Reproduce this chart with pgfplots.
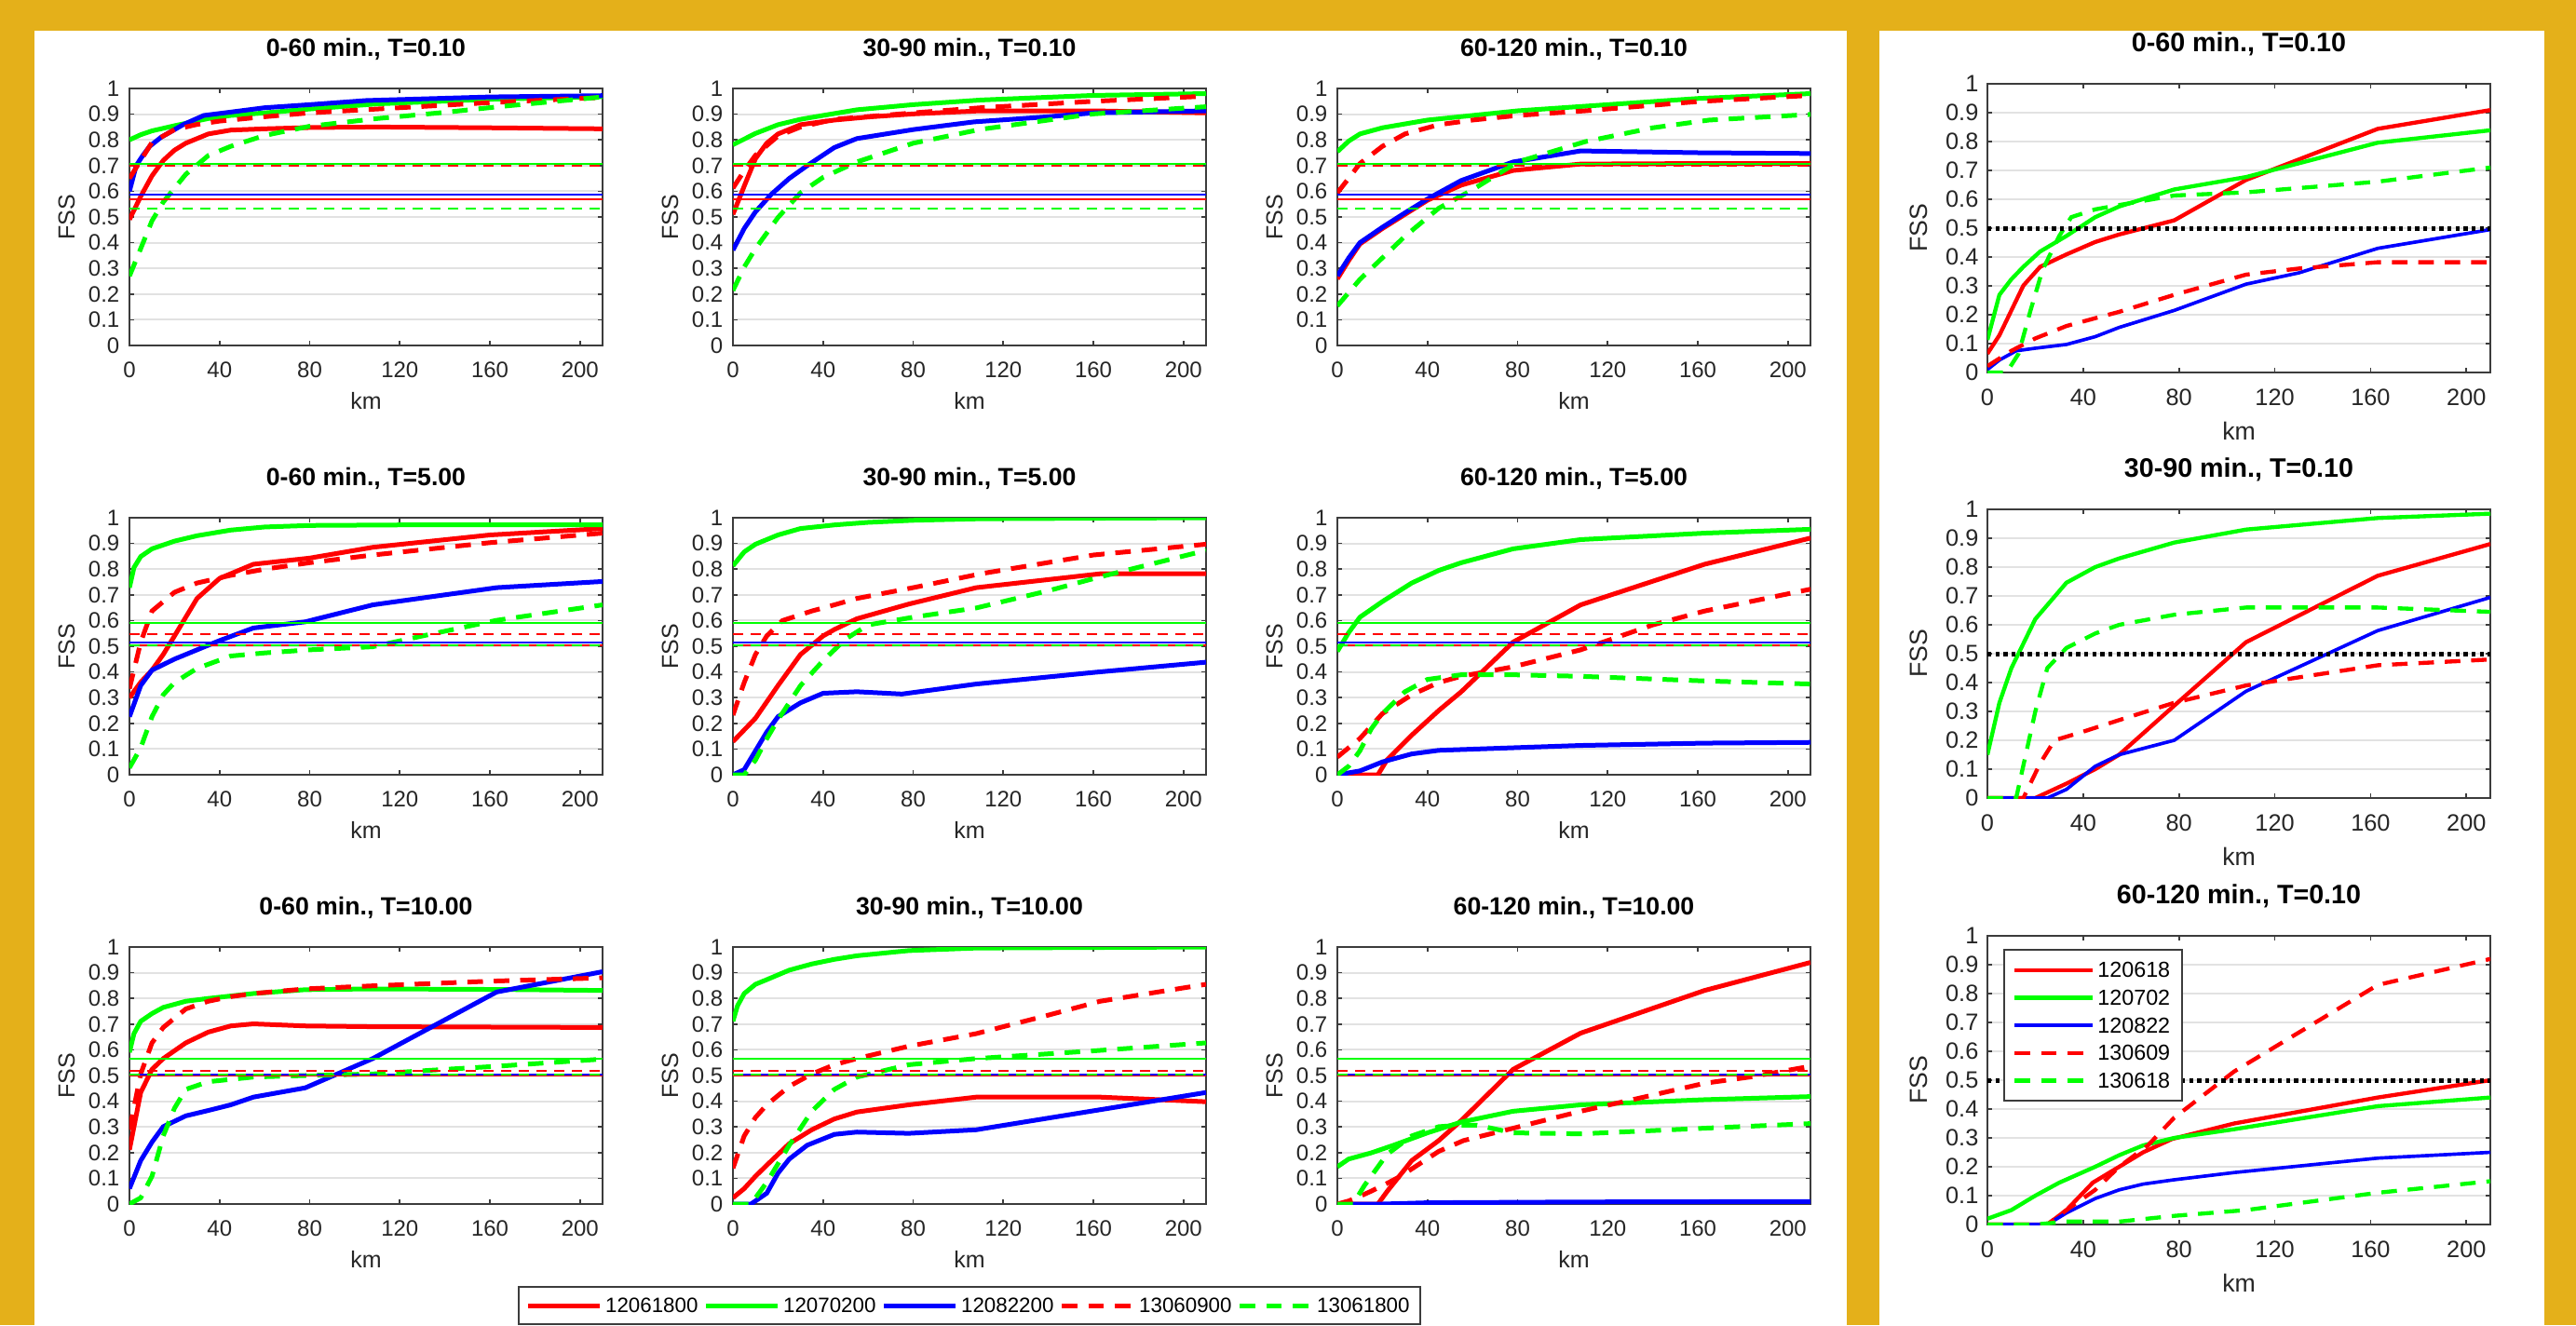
\documentclass[border=0pt]{standalone}
\usepackage{fontspec}
\setmainfont{Liberation Sans}
\usepackage{pgfplots}
\pgfplotsset{compat=1.18}
\definecolor{gold}{RGB}{228,176,26}
\definecolor{axgray}{RGB}{60,60,60}
\definecolor{gridgray}{RGB}{226,226,226}
\pgfplotsset{
  base/.style={scale only axis, xmin=0, xmax=210, ymin=0, ymax=1,
    xtick={0,40,80,120,160,200},
    ytick={0,0.1,0.2,0.3,0.4,0.5,0.6,0.7,0.8,0.9,1},
    tick align=inside, xtick pos=both, ytick pos=both,
    major tick length=1.5pt,
    tick style={axgray, line width=0.5pt},
    axis line style={axgray, line width=0.6pt},
    ymajorgrids, major grid style={gridgray, line width=0.6pt},
    /pgf/number format/assume math mode=true,
    ticklabel style={text=black!85},
    xlabel={km}, ylabel={FSS},
    label style={text=black!85},
  },
  lax/.style n args={3}{base, at={(#1,#2)}, anchor=south west, width=152.4pt, height=82.8pt,
    title={#3},
    title style={at={(0.5,1)}, anchor=center, yshift=6.6pt, font=\bfseries\fontsize{8}{9}\selectfont},
    xticklabel style={anchor=center, yshift=-7.8pt, font=\fontsize{7.2}{8}\selectfont},
    yticklabel style={anchor=east, inner sep=0pt, xshift=-3pt, font=\fontsize{7.2}{8}\selectfont},
    xlabel style={at={(axis description cs:0.5,0)}, anchor=center, yshift=-17.7pt, font=\fontsize{7.5}{8}\selectfont},
    ylabel style={at={(axis description cs:-0.133,0.5)}, anchor=center, font=\fontsize{7.5}{8}\selectfont},
  },
  rax/.style n args={2}{base, at={(640.2pt,#1)}, anchor=south west, width=162pt, height=93pt,
    title={#2},
    title style={at={(0.5,1)}, anchor=center, yshift=6.9pt, font=\bfseries\fontsize{8.6}{9.5}\selectfont},
    xticklabel style={anchor=center, yshift=-8.1pt, font=\fontsize{7.6}{8}\selectfont},
    yticklabel style={anchor=east, inner sep=0pt, xshift=-2.7pt, font=\fontsize{7.6}{8}\selectfont},
    xlabel style={at={(axis description cs:0.5,0)}, anchor=center, yshift=-18.9pt, font=\fontsize{8}{9}\selectfont},
    ylabel style={at={(axis description cs:-0.137,0.5)}, anchor=center, font=\fontsize{8}{9}\selectfont},
  },
  R/.style={color=red, line width=1.5pt},
  G/.style={color=green, line width=1.5pt},
  B/.style={color=blue, line width=1.5pt},
  RD/.style={color=red, line width=1.5pt, dash pattern=on 5pt off 3.5pt},
  GD/.style={color=green, line width=1.5pt, dash pattern=on 5pt off 3.5pt},
  Rt/.style={color=red, line width=0.6pt},
  Gt/.style={color=green, line width=0.6pt},
  Bt/.style={color=blue, line width=0.6pt},
  RDt/.style={color=red, line width=0.6pt, dash pattern=on 3.3pt off 2.4pt},
  GDt/.style={color=green, line width=0.6pt, dash pattern=on 3.3pt off 2.4pt},
  r/.style={color=red, line width=1.3pt},
  g/.style={color=green, line width=1.3pt},
  b/.style={color=blue, line width=1.1pt},
  rd/.style={color=red, line width=1.3pt, dash pattern=on 5pt off 3.5pt},
  gd/.style={color=green, line width=1.3pt, dash pattern=on 5pt off 3.5pt},
  half/.style={color=black, line width=1.5pt, dash pattern=on 1.3pt off 1.3pt},
}
\newcommand\refline[2]{\addplot[#1, forget plot] coordinates {(0,#2) (210,#2)};}
\newcommand\refsA{\refline{Rt}{0.570}\refline{Gt}{0.706}\refline{Bt}{0.588}\refline{RDt}{0.701}\refline{GDt}{0.531}}
\newcommand\refsB{\refline{Rt}{0.504}\refline{Gt}{0.592}\refline{Bt}{0.516}\refline{RDt}{0.548}\refline{GDt}{0.505}}
\newcommand\refsC{\refline{Rt}{0.501}\refline{Gt}{0.566}\refline{Bt}{0.502}\refline{RDt}{0.518}\refline{GDt}{0.502}}
\begin{document}
\begin{tikzpicture}
\useasboundingbox (0,0) rectangle (829.8pt,426.9pt);
\fill[gold] (0,0) rectangle (829.8pt,426.9pt);
\fill[white] (11.1pt,0) rectangle (594.9pt,417pt);
\fill[white] (605.4pt,0) rectangle (819.6pt,417pt);

% ---------- Row 1: T=0.10 ----------
\begin{axis}[lax={41.7pt}{315.6pt}{0-60 min., T=0.10}]
\addplot[R] coordinates {(0,0.49)(5,0.58)(10,0.66)(15,0.72)(20,0.76)(25,0.787)(35,0.823)(45,0.838)(60,0.843)(80,0.848)(110,0.85)(160,0.847)(210,0.843)};
\addplot[G] coordinates {(0,0.80)(5,0.82)(10,0.835)(20,0.855)(35,0.883)(45,0.895)(60,0.905)(80,0.92)(110,0.94)(160,0.958)(210,0.968)};
\addplot[B] coordinates {(0,0.60)(3,0.70)(6,0.74)(9,0.775)(14,0.81)(24,0.86)(33,0.895)(44,0.907)(60,0.925)(80,0.937)(105,0.953)(160,0.967)(210,0.972)};
\addplot[RD] coordinates {(0,0.65)(5,0.72)(10,0.79)(20,0.84)(30,0.86)(40,0.873)(60,0.89)(80,0.905)(120,0.925)(160,0.945)(210,0.965)};
\addplot[GD] coordinates {(0,0.27)(5,0.377)(10,0.485)(15,0.558)(25,0.666)(35,0.739)(45,0.775)(60,0.817)(80,0.853)(110,0.883)(140,0.907)(165,0.93)(210,0.967)};
\refsA
\end{axis}
\begin{axis}[lax={236.1pt}{315.6pt}{30-90 min., T=0.10}]
\addplot[R] coordinates {(0,0.51)(5,0.62)(10,0.727)(15,0.787)(20,0.823)(30,0.859)(45,0.877)(60,0.889)(80,0.901)(110,0.913)(160,0.913)(210,0.905)};
\addplot[G] coordinates {(0,0.781)(10,0.825)(20,0.859)(30,0.88)(40,0.895)(55,0.917)(80,0.937)(110,0.955)(160,0.973)(210,0.98)};
\addplot[B] coordinates {(0,0.371)(5,0.455)(10,0.52)(17,0.588)(25,0.65)(33,0.70)(45,0.77)(55,0.805)(80,0.84)(107,0.87)(140,0.89)(160,0.905)(210,0.913)};
\addplot[RD] coordinates {(0,0.612)(5,0.68)(10,0.74)(20,0.815)(30,0.85)(45,0.88)(80,0.905)(110,0.925)(160,0.95)(210,0.97)};
\addplot[GD] coordinates {(0,0.214)(5,0.305)(10,0.377)(20,0.498)(30,0.594)(40,0.654)(55,0.714)(80,0.787)(110,0.841)(160,0.901)(210,0.929)};
\refsA
\end{axis}
\begin{axis}[lax={430.8pt}{315.6pt}{60-120 min., T=0.10}]
\addplot[R] coordinates {(0,0.259)(5,0.33)(10,0.395)(20,0.455)(30,0.51)(40,0.565)(55,0.624)(78,0.681)(108,0.706)(160,0.708)(210,0.708)};
\addplot[G] coordinates {(0,0.754)(5,0.795)(10,0.823)(20,0.847)(40,0.877)(60,0.895)(80,0.913)(110,0.931)(160,0.961)(210,0.98)};
\addplot[B] coordinates {(0,0.271)(5,0.34)(10,0.40)(20,0.46)(30,0.516)(40,0.57)(55,0.642)(78,0.714)(108,0.757)(160,0.75)(210,0.747)};
\addplot[RD] coordinates {(0,0.594)(5,0.65)(10,0.708)(20,0.775)(30,0.823)(45,0.859)(60,0.877)(80,0.895)(110,0.913)(160,0.949)(210,0.973)};
\addplot[GD] coordinates {(0,0.154)(10,0.257)(20,0.341)(30,0.425)(45,0.534)(60,0.606)(80,0.714)(110,0.793)(140,0.847)(165,0.877)(210,0.899)};
\refsA
\end{axis}

% ---------- Row 2: T=5.00 ----------
\begin{axis}[lax={41.7pt}{177.3pt}{0-60 min., T=5.00}]
\addplot[R] coordinates {(0,0.30)(5,0.36)(10,0.407)(15,0.468)(20,0.54)(25,0.613)(30,0.686)(40,0.764)(55,0.819)(80,0.843)(108,0.885)(160,0.933)(210,0.958)};
\addplot[G] coordinates {(0,0.728)(2,0.806)(5,0.849)(10,0.879)(20,0.909)(30,0.93)(45,0.952)(60,0.964)(80,0.97)(120,0.972)(210,0.972)};
\addplot[B] coordinates {(0,0.226)(5,0.347)(10,0.407)(20,0.45)(30,0.486)(40,0.522)(55,0.571)(78,0.595)(108,0.661)(163,0.728)(210,0.752)};
\addplot[RD] coordinates {(0,0.335)(5,0.516)(10,0.637)(20,0.71)(30,0.746)(45,0.776)(60,0.80)(80,0.825)(108,0.855)(160,0.903)(210,0.94)};
\addplot[GD] coordinates {(0,0.027)(5,0.105)(10,0.226)(15,0.311)(20,0.359)(30,0.414)(45,0.462)(60,0.474)(80,0.486)(108,0.498)(130,0.54)(163,0.601)(210,0.661)};
\refsB
\end{axis}
\begin{axis}[lax={236.1pt}{177.3pt}{30-90 min., T=5.00}]
\addplot[R] coordinates {(0,0.129)(10,0.22)(20,0.347)(30,0.468)(40,0.54)(45,0.565)(55,0.607)(78,0.664)(108,0.728)(163,0.782)(210,0.782)};
\addplot[G] coordinates {(0,0.813)(5,0.867)(10,0.897)(20,0.933)(30,0.958)(45,0.972)(60,0.982)(80,0.99)(110,0.996)(210,1.0)};
\addplot[B] coordinates {(0,0)(5,0.02)(10,0.093)(15,0.166)(20,0.226)(30,0.28)(40,0.317)(55,0.323)(75,0.314)(108,0.353)(160,0.398)(210,0.438)};
\addplot[RD] coordinates {(0,0.232)(5,0.359)(10,0.468)(15,0.54)(22,0.60)(35,0.637)(45,0.661)(55,0.686)(80,0.728)(110,0.782)(160,0.855)(210,0.897)};
\addplot[GD] coordinates {(0,0)(5,0)(10,0.057)(15,0.14)(20,0.214)(30,0.347)(40,0.444)(50,0.528)(60,0.583)(80,0.613)(108,0.649)(140,0.716)(163,0.77)(210,0.873)};
\refsB
\end{axis}
\begin{axis}[lax={430.8pt}{177.3pt}{60-120 min., T=5.00}]
\addplot[R] coordinates {(0,0)(18,0)(22,0.057)(33,0.154)(45,0.25)(55,0.323)(78,0.516)(108,0.661)(163,0.819)(210,0.921)};
\addplot[G] coordinates {(0,0.48)(5,0.553)(10,0.613)(20,0.674)(33,0.746)(45,0.795)(55,0.825)(78,0.879)(108,0.915)(163,0.94)(210,0.955)};
\addplot[B] coordinates {(0,0)(10,0.015)(20,0.05)(33,0.081)(45,0.095)(78,0.105)(108,0.114)(163,0.123)(210,0.126)};
\addplot[RD] coordinates {(0,0.069)(10,0.141)(20,0.238)(33,0.311)(45,0.359)(55,0.383)(78,0.42)(108,0.486)(140,0.583)(163,0.637)(210,0.722)};
\addplot[GD] coordinates {(0,0)(5,0.033)(10,0.093)(15,0.178)(20,0.238)(30,0.323)(40,0.371)(55,0.389)(78,0.389)(108,0.383)(163,0.365)(210,0.353)};
\refsB
\end{axis}

% ---------- Row 3: T=10.00 ----------
\begin{axis}[lax={41.7pt}{39pt}{0-60 min., T=10.00}]
\addplot[R] coordinates {(0,0.211)(5,0.434)(10,0.524)(15,0.566)(25,0.627)(35,0.669)(45,0.693)(55,0.701)(78,0.693)(108,0.69)(210,0.687)};
\addplot[G] coordinates {(0,0.59)(2,0.663)(5,0.711)(10,0.741)(15,0.765)(25,0.789)(35,0.80)(55,0.819)(78,0.834)(108,0.837)(163,0.835)(210,0.831)};
\addplot[B] coordinates {(0,0.06)(5,0.169)(10,0.241)(15,0.301)(25,0.343)(35,0.364)(45,0.386)(55,0.416)(78,0.452)(108,0.566)(163,0.825)(210,0.904)};
\addplot[RD] coordinates {(0,0.289)(5,0.506)(10,0.627)(15,0.687)(25,0.759)(35,0.789)(45,0.807)(55,0.819)(78,0.837)(108,0.849)(160,0.867)(210,0.88)};
\addplot[GD] coordinates {(0,0)(5,0.024)(10,0.108)(15,0.265)(20,0.373)(25,0.446)(35,0.476)(55,0.494)(78,0.50)(108,0.506)(140,0.524)(163,0.536)(210,0.564)};
\refsC
\end{axis}
\begin{axis}[lax={236.1pt}{39pt}{30-90 min., T=10.00},
  legend style={at={(0.5,-0.395)}, anchor=center, draw=axgray, line width=0.6pt,
    font=\fontsize{6.7}{7}\selectfont, inner sep=2.3pt,
    nodes={inner sep=1.15pt, text height=4.9pt, text depth=0.3pt},
    /tikz/every even column/.append style={column sep=0.7pt}},
  legend columns=5,
  legend image code/.code={\draw[#1] (0pt,0pt) -- (23pt,0pt);}]
\addplot[R] coordinates {(0,0.024)(5,0.06)(10,0.108)(15,0.151)(25,0.235)(35,0.289)(45,0.331)(55,0.358)(78,0.386)(108,0.416)(163,0.416)(210,0.398)};
\addlegendentry{12061800}
\addplot[G] coordinates {(0,0.711)(2,0.771)(5,0.819)(10,0.855)(15,0.873)(25,0.91)(35,0.934)(45,0.952)(55,0.966)(78,0.986)(108,0.996)(210,1.0)};
\addlegendentry{12070200}
\addplot[B] coordinates {(0,0)(8,0)(15,0.042)(20,0.12)(25,0.175)(33,0.229)(45,0.271)(55,0.28)(78,0.275)(108,0.289)(163,0.367)(210,0.434)};
\addlegendentry{12082200}
\addplot[RD] coordinates {(0,0.139)(5,0.265)(10,0.337)(15,0.386)(25,0.458)(35,0.506)(45,0.542)(55,0.566)(78,0.614)(108,0.663)(140,0.735)(163,0.789)(210,0.855)};
\addlegendentry{13060900}
\addplot[GD] coordinates {(0,0)(8,0)(15,0.084)(25,0.229)(35,0.361)(45,0.446)(55,0.494)(78,0.542)(108,0.566)(160,0.596)(210,0.627)};
\addlegendentry{13061800}
\refsC
\end{axis}
\begin{axis}[lax={430.8pt}{39pt}{60-120 min., T=10.00}]
\addplot[R] coordinates {(0,0)(18,0)(22,0.048)(33,0.169)(45,0.247)(55,0.325)(78,0.524)(108,0.665)(163,0.831)(210,0.94)};
\addplot[G] coordinates {(0,0.145)(5,0.175)(15,0.199)(25,0.229)(40,0.277)(55,0.319)(78,0.361)(108,0.386)(163,0.406)(210,0.418)};
\addplot[B] coordinates {(0,0)(20,0)(40,0.005)(108,0.008)(210,0.01)};
\addplot[RD] coordinates {(0,0)(5,0.012)(10,0.03)(15,0.05)(22,0.08)(28,0.108)(45,0.205)(56,0.247)(78,0.295)(108,0.361)(133,0.41)(163,0.47)(183,0.494)(210,0.536)};
\addplot[GD] coordinates {(0,0)(7,0)(12,0.072)(22,0.193)(33,0.265)(45,0.301)(55,0.307)(62,0.307)(78,0.277)(108,0.273)(163,0.295)(210,0.313)};
\refsC
\end{axis}

% ---------- Right column ----------
\begin{axis}[rax={306.9pt}{0-60 min., T=0.10}]
\addplot[r] coordinates {(0,0.065)(5,0.129)(10,0.215)(15,0.301)(22,0.366)(33,0.409)(45,0.452)(55,0.478)(78,0.527)(108,0.667)(163,0.844)(210,0.909)};
\addplot[g] coordinates {(0,0.113)(5,0.269)(10,0.323)(15,0.366)(22,0.419)(33,0.473)(45,0.538)(55,0.575)(78,0.634)(108,0.677)(163,0.796)(210,0.839)};
\addplot[b] coordinates {(0,0.01)(5,0.043)(12,0.075)(20,0.084)(33,0.097)(45,0.124)(55,0.156)(78,0.215)(108,0.306)(130,0.345)(163,0.43)(210,0.495)};
\addplot[rd] coordinates {(0,0.022)(10,0.075)(20,0.118)(33,0.161)(45,0.188)(55,0.21)(78,0.269)(108,0.339)(130,0.36)(163,0.382)(210,0.382)};
\addplot[gd] coordinates {(0,0)(8,0)(13,0.065)(18,0.215)(23,0.355)(30,0.473)(35,0.538)(45,0.565)(55,0.58)(78,0.613)(108,0.624)(163,0.661)(210,0.71)};
\addplot[half] coordinates {(0,0.5)(210,0.5)};
\end{axis}
\begin{axis}[rax={169.8pt}{30-90 min., T=0.10}]
\addplot[r] coordinates {(0,0)(20,0)(33,0.05)(45,0.1)(55,0.15)(78,0.32)(108,0.54)(163,0.77)(210,0.88)};
\addplot[g] coordinates {(0,0.15)(5,0.33)(10,0.45)(20,0.62)(33,0.746)(45,0.80)(55,0.83)(78,0.885)(108,0.93)(163,0.97)(210,0.985)};
\addplot[b] coordinates {(0,0)(25,0)(33,0.03)(45,0.11)(55,0.15)(78,0.2)(108,0.37)(163,0.58)(210,0.695)};
\addplot[rd] coordinates {(0,0)(15,0)(22,0.12)(28,0.2)(40,0.23)(55,0.27)(78,0.33)(108,0.39)(163,0.46)(210,0.48)};
\addplot[gd] coordinates {(0,0)(12,0)(20,0.3)(25,0.45)(33,0.52)(45,0.57)(55,0.60)(78,0.635)(108,0.66)(163,0.66)(210,0.645)};
\addplot[half] coordinates {(0,0.5)(210,0.5)};
\end{axis}
\begin{axis}[rax={32.4pt}{60-120 min., T=0.10},
  legend style={at={(0.0315,0.955)}, anchor=north west, draw=axgray, line width=0.6pt,
    font=\fontsize{7}{8}\selectfont, inner sep=2.7pt, row sep=1.2pt,
    nodes={inner sep=1.1pt, text height=5.2pt, text depth=0.3pt}},
  legend cell align=left,
  legend image code/.code={\draw[#1] (0pt,0pt) -- (25pt,0pt);}]
\addplot[r] coordinates {(0,0)(25,0)(33,0.05)(44,0.145)(55,0.2)(65,0.25)(77,0.296)(103,0.35)(163,0.44)(210,0.5)};
\addlegendentry{120618}
\addplot[g] coordinates {(0,0.02)(10,0.05)(20,0.1)(30,0.145)(45,0.2)(55,0.24)(65,0.274)(78,0.3)(103,0.33)(163,0.41)(210,0.44)};
\addlegendentry{120702}
\addplot[b] coordinates {(0,0)(25,0)(33,0.04)(45,0.09)(55,0.12)(65,0.14)(78,0.155)(103,0.18)(163,0.23)(210,0.25)};
\addlegendentry{120822}
\addplot[rd] coordinates {(0,0)(25,0)(33,0.05)(45,0.12)(55,0.2)(67,0.274)(78,0.37)(103,0.53)(163,0.83)(210,0.92)};
\addlegendentry{130609}
\addplot[gd] coordinates {(0,0)(20,0)(33,0.01)(55,0.01)(78,0.03)(108,0.05)(163,0.11)(210,0.15)};
\addlegendentry{130618}
\addplot[half, forget plot] coordinates {(0,0.5)(210,0.5)};
\end{axis}
\end{tikzpicture}
\end{document}
